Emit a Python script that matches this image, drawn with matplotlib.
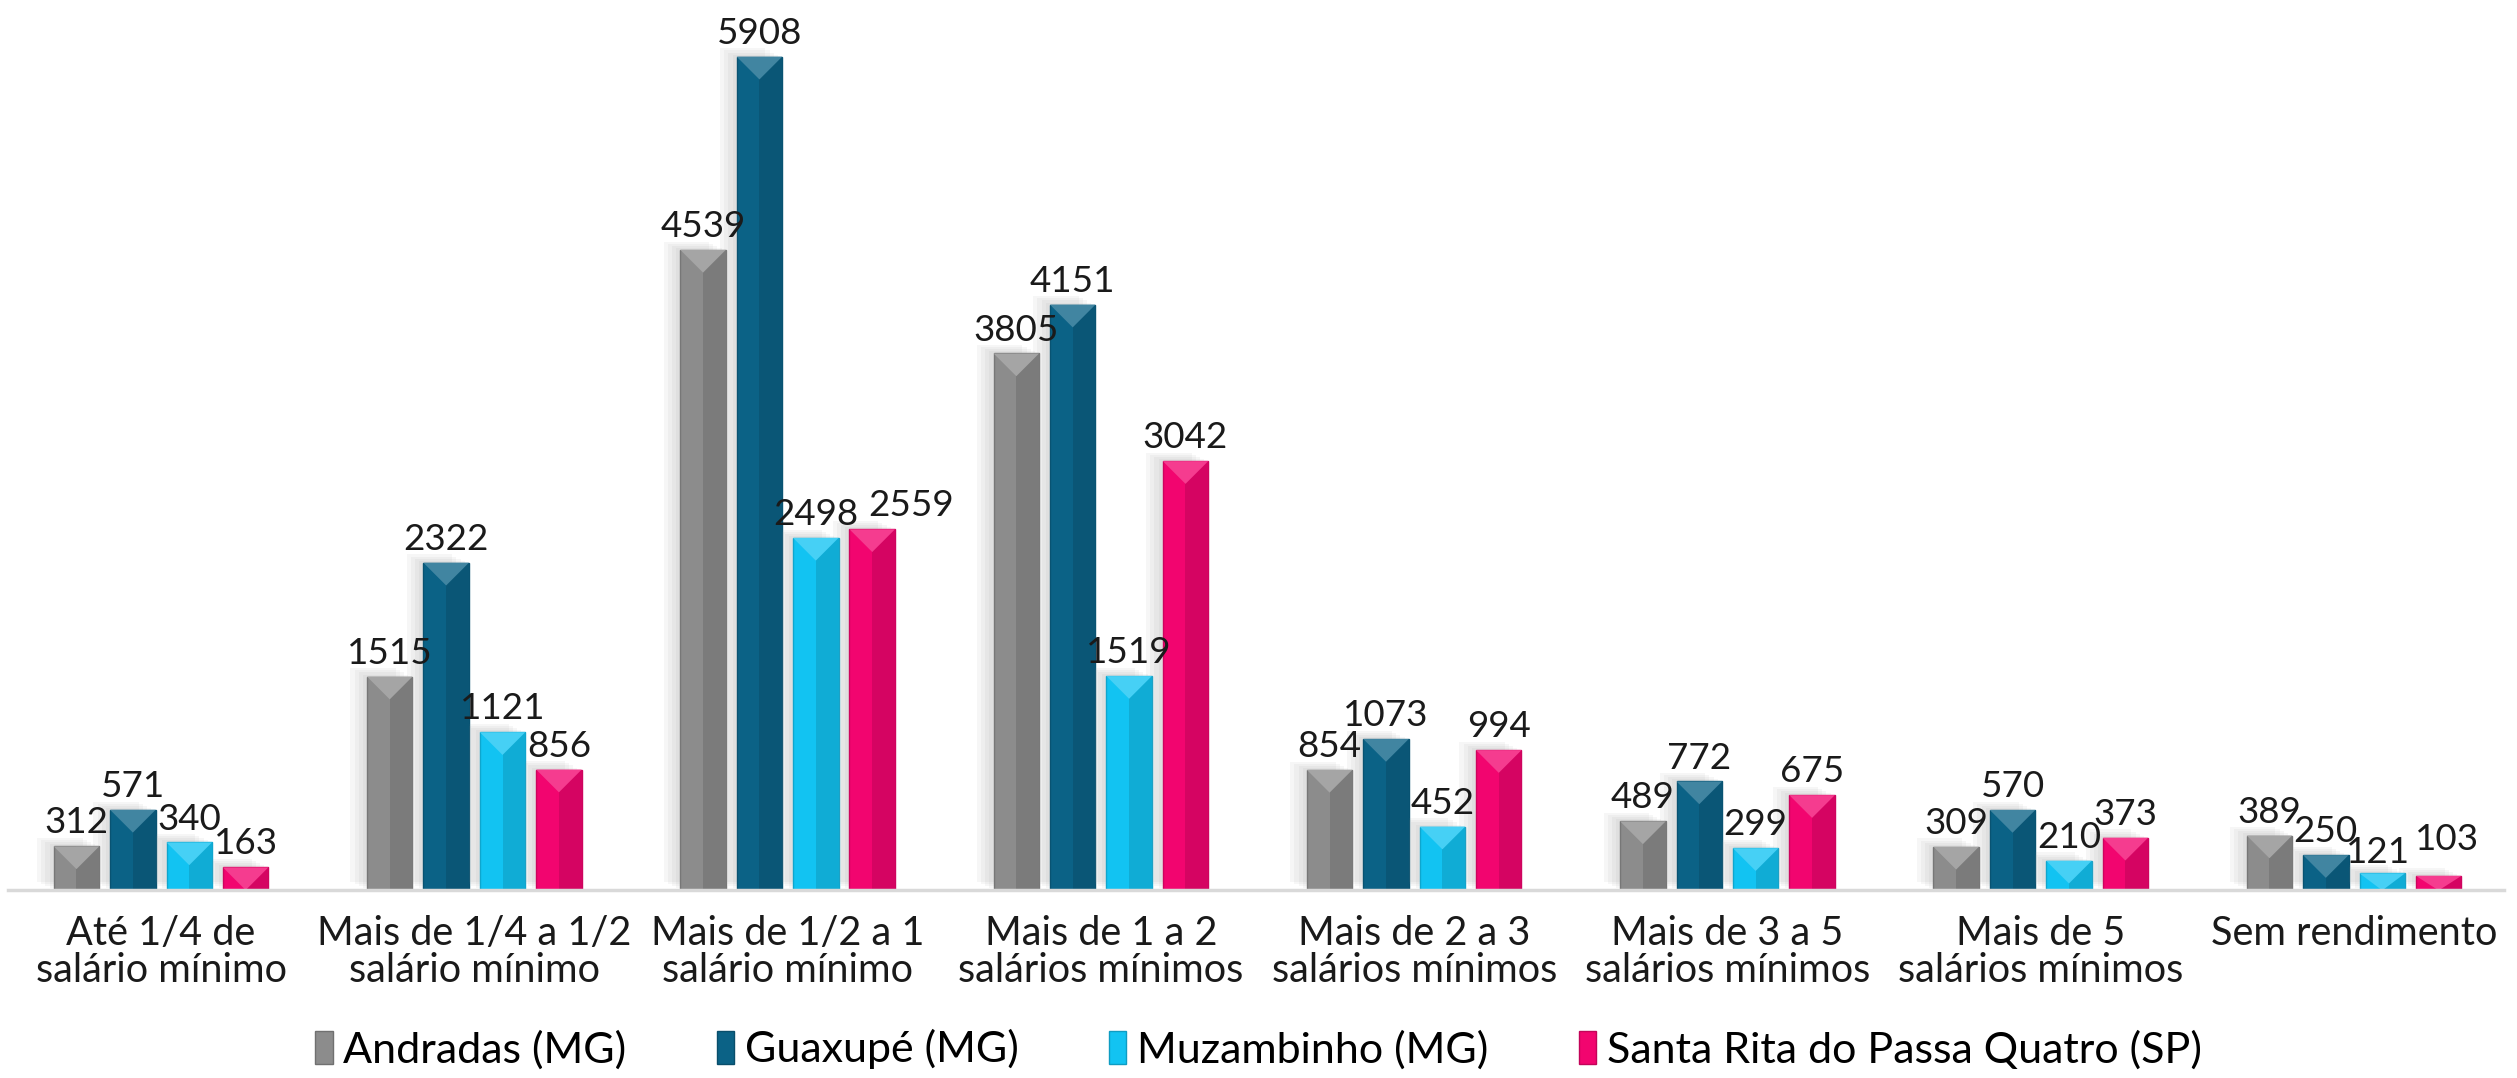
import numpy as np
from matplotlib import pyplot as plt
from matplotlib.patches import Polygon, Rectangle
import matplotlib.patheffects as pe
import matplotlib.colors as mcolors

# categorias (faixas de rendimento)
categories = [
    "Até 1/4 de\nsalário mínimo",
    "Mais de 1/4 a 1/2\nsalário mínimo",
    "Mais de 1/2 a 1\nsalário mínimo",
    "Mais de 1 a 2\nsalários mínimos",
    "Mais de 2 a 3\nsalários mínimos",
    "Mais de 3 a 5\nsalários mínimos",
    "Mais de 5\nsalários mínimos",
    "Sem rendimento",
]

# municípios e valores
series_names = [
    "Andradas (MG)",
    "Guaxupé (MG)",
    "Muzambinho (MG)",
    "Santa Rita do Passa Quatro (SP)",
]
andradas = [312, 1515, 4539, 3805, 854, 489, 309, 389]
guaxupe = [571, 2322, 5908, 4151, 1073, 772, 570, 250]
muzambinho = [340, 1121, 2498, 1519, 452, 299, 210, 121]
santa_rita = [163, 856, 2559, 3042, 994, 675, 373, 103]

colors = ["#8c8c8c", "#0b6286", "#12c3f2", "#f2056f"]


def shade(color, factor):
    r, g, b = mcolors.to_rgb(color)
    if factor < 1:
        return (r * factor, g * factor, b * factor)
    return (r + (1 - r) * (factor - 1), g + (1 - g) * (factor - 1), b + (1 - b) * (factor - 1))


def main():
    plt.rcParams["font.family"] = ["Lato", "DejaVu Sans"]
    fig = plt.figure(figsize=(25.17, 10.78), dpi=100)
    ax = fig.add_axes([0.003, 0.174, 0.992, 0.826])

    data = [andradas, guaxupe, muzambinho, santa_rita]
    x = np.arange(len(categories))
    width = 0.145
    step = 0.18

    ax.set_xlim(-0.49, len(categories) - 0.52)
    ax.set_ylim(0, 6310)

    px_x = ax.transData.transform((1, 0))[0] - ax.transData.transform((0, 0))[0]
    px_y = ax.transData.transform((0, 1))[1] - ax.transData.transform((0, 0))[1]

    # sombra suave: várias camadas com pouca opacidade
    soft_shadow = [pe.SimplePatchShadow(offset=(-3 * k, 1.5 * k), shadow_rgbFace="#888888", alpha=0.07)
                   for k in range(1, 5)] + [pe.Normal()]

    # deslocamentos manuais de alguns rótulos (em pontos), como no original
    label_shift = {(3, 2): (28, 5), (3, 7): (6, 14), (2, 7): (-3, 3)}

    for i, (name, vals, col) in enumerate(zip(series_names, data, colors)):
        pos = x + (i - 1.5) * step
        bars = ax.bar(pos, vals, width, color=col, zorder=2,
                      edgecolor=shade(col, 0.85), linewidth=1)
        for b in bars:
            b.set_path_effects(soft_shadow)
            bx, bw, bh = b.get_x(), b.get_width(), b.get_height()
            # metade direita mais escura
            ax.add_patch(Rectangle((bx + bw / 2, 0), bw / 2, bh, color=shade(col, 0.88),
                                   zorder=2.1, linewidth=0))
            # triângulo superior mais claro
            th = min((bw * px_x / 2) / px_y, bh)
            ax.add_patch(Polygon([(bx, bh), (bx + bw, bh), (bx + bw / 2, bh - th)],
                                 closed=True, color=shade(col, 1.22), zorder=2.2, linewidth=0))
        for j, b in enumerate(bars):
            offset = label_shift.get((i, j), (0, 5))
            ax.annotate(str(vals[j]), (b.get_x() + b.get_width() / 2, b.get_height()),
                        xytext=offset, textcoords="offset points", ha="center", va="bottom",
                        fontsize=26.5, color="#1a1a1a", zorder=5)
        # entrada da legenda sem sombra
        ax.bar([0], [0], 0, color=col, edgecolor=shade(col, 0.8), linewidth=1, label=name)

    ax.set_xticks(x)
    ax.set_xticklabels(categories, fontsize=28.5, color="#1a1a1a", linespacing=1.0)
    ax.tick_params(axis="x", length=0, pad=18)
    ax.set_yticks([])
    for s in ["top", "right", "left"]:
        ax.spines[s].set_visible(False)
    ax.spines["bottom"].set_color("#d9d9d9")
    ax.spines["bottom"].set_linewidth(2.5)

    handles, labels = ax.get_legend_handles_labels()
    fig.legend(handles, labels, loc="lower center", bbox_to_anchor=(0.5, -0.028), ncol=4,
               frameon=False, fontsize=31, handlelength=0.4, handleheight=0.8,
               handletextpad=0.25, columnspacing=2.1)

    fig.savefig("out.png", dpi=100, facecolor="white")


if __name__ == "__main__":
    main()
